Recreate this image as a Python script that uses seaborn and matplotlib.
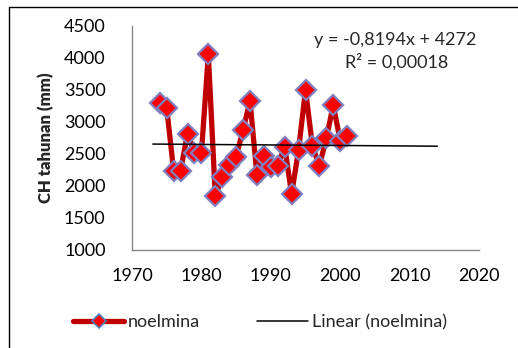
import numpy as np
import pandas as pd
import matplotlib
matplotlib.use("Agg")
import matplotlib.pyplot as plt
from matplotlib.lines import Line2D
from matplotlib.patches import Rectangle
import seaborn as sns

years = [1974, 1975, 1976, 1977, 1978, 1979, 1980, 1981, 1982, 1983, 1984, 1985, 1986, 1987,
         1988, 1989, 1990, 1991, 1992, 1993, 1994, 1995, 1996, 1997, 1998, 1999, 2000, 2001]
rainfall = [3290, 3215, 2240, 2240, 2820, 2520, 2510, 4055, 1845, 2135, 2325, 2460, 2875, 3325,
            2175, 2470, 2300, 2320, 2615, 1875, 2565, 3500, 2625, 2315, 2745, 3265, 2710, 2780]
series_name = "noelmina"
trend_slope = -0.8194
trend_intercept = 4272
trend_years = [1973, 2014]
eq_text = "y = -0,8194x + 4272"
r2_text = "R² = 0,00018"
x_ticks = [1970, 1980, 1990, 2000, 2010, 2020]
y_ticks = [1000, 1500, 2000, 2500, 3000, 3500, 4000, 4500]
y_label = "CH tahunan (mm)"

sns.set_style("white")
plt.rcParams['font.family'] = ['Lato', 'DejaVu Sans']

df = pd.DataFrame({"year": years, "value": rainfall})
fig = plt.figure(figsize=(5.18, 3.48), dpi=100)
ax = fig.add_axes([132/518, 1-250/348, (479-132)/518, (250-26)/348])

line_col = "#C00000"
sns.lineplot(data=df, x="year", y="value", ax=ax, color=line_col, linewidth=3.8,
             marker="D", markersize=10, markerfacecolor="#FF0000",
             markeredgecolor="#7F7FBF", markeredgewidth=1.6, legend=False)

tx = np.array(trend_years, dtype=float)
ax.plot(tx, trend_slope * tx + trend_intercept, color="black", linewidth=1.1, zorder=5)

fs = 13
ax.set_xlim(x_ticks[0], x_ticks[-1])
ax.set_ylim(y_ticks[0], y_ticks[-1])
ax.set_xticks(x_ticks)
ax.set_yticks(y_ticks)
ax.set_xlabel("")
ax.set_ylabel(y_label, fontsize=12, fontweight="heavy", labelpad=7)
for s in ["top", "right"]:
    ax.spines[s].set_visible(False)
for s in ["left", "bottom"]:
    ax.spines[s].set_color("#868686")
    ax.spines[s].set_linewidth(1.0)
ax.tick_params(axis="both", direction="out", length=5, width=1.0, color="#868686",
               labelsize=fs, labelcolor="black")
ax.tick_params(axis="y", pad=14)
ax.tick_params(axis="x", pad=8)
ax.grid(False)

fig.text(395/518, 1-40/348, eq_text, ha="center", va="center", fontsize=fs)
fig.text(397/518, 1-62/348, r2_text, ha="center", va="center", fontsize=fs)

handles = [
    Line2D([], [], color=line_col, linewidth=3.8, marker="D", markersize=7,
           markerfacecolor="#FF0000", markeredgecolor="#4F81BD", markeredgewidth=1.2),
    Line2D([], [], color="black", linewidth=1.1),
]
fig.legend(handles, [series_name, f"Linear ({series_name})"], loc="center",
           bbox_to_anchor=(260/518, 1-322/348), ncol=2, frameon=False, fontsize=fs,
           handlelength=2.8, handletextpad=0.2, columnspacing=3.2)

fig.add_artist(Rectangle((9/518, -0.1), 1.2, 1.1 - 7/348, transform=fig.transFigure,
                         fill=False, edgecolor="black", linewidth=1.0))

fig.savefig("out.png", dpi=100)
